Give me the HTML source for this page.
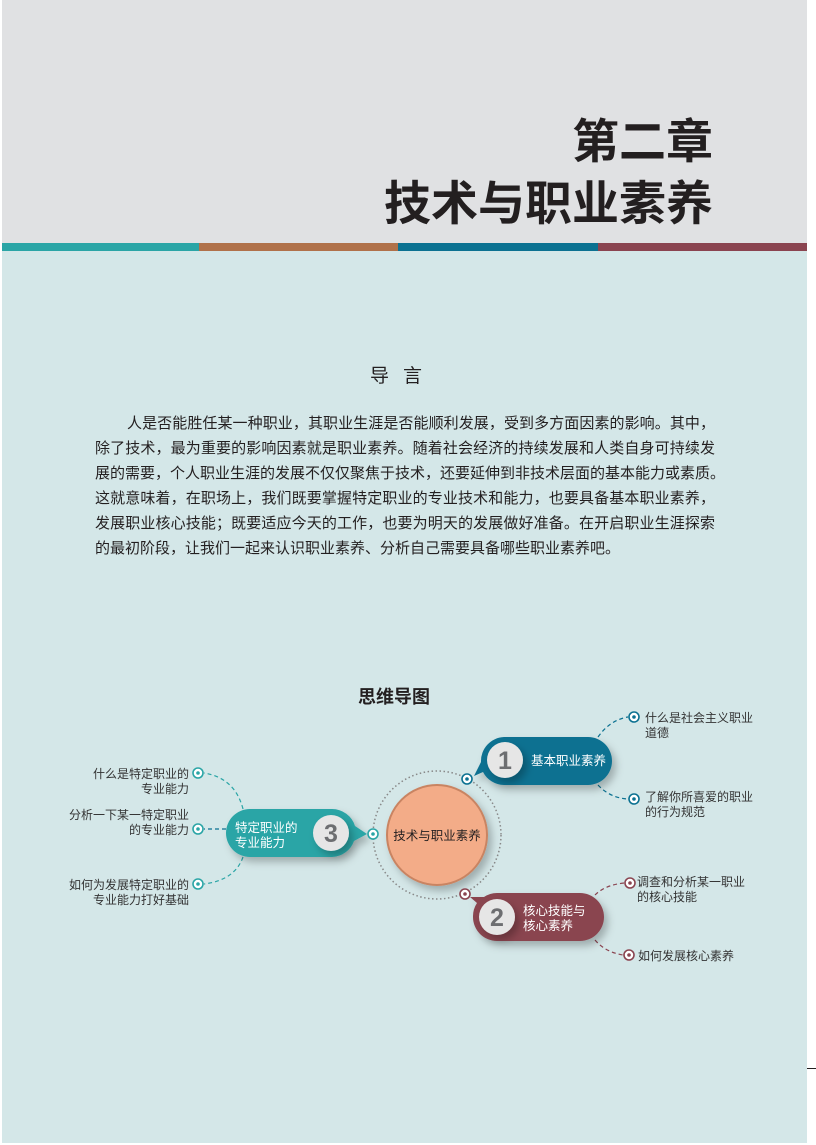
<!DOCTYPE html>
<html><head><meta charset="utf-8"><style>
body{margin:0;width:816px;height:1145px;background:#fff;position:relative;overflow:hidden;font-family:"Liberation Sans","Noto Sans CJK SC",sans-serif}
.page{position:absolute;left:2px;top:0;width:805px;height:1143px;background:#d4e7e8}
.hdr{position:absolute;left:0;top:0;width:805px;height:243px;background:#e0e1e3}
.t{position:absolute;right:94px;font-weight:bold;color:#231f20;font-size:47px;line-height:1;font-family:"Noto Sans CJK SC",sans-serif}
.para{position:absolute;left:93px;top:411px;width:620px;font-size:15px;color:#231f20;line-height:25px}
.para div{text-align:justify;text-align-last:justify;white-space:nowrap}
.s{position:absolute;top:243px;height:8px}
</style></head><body>
<div class="page">
<div class="hdr"></div>
<div class="t" style="top:114px;">第二章</div>
<div class="t" style="top:176px;">技术与职业素养</div>
<div class="s" style="left:0;width:197px;background:#2aa5a6"></div>
<div class="s" style="left:197px;width:199px;background:#b0714a"></div>
<div class="s" style="left:396px;width:200px;background:#0b7191"></div>
<div class="s" style="left:596px;width:209px;background:#8a4450"></div>
<div style="position:absolute;left:368px;top:361px;font-size:19px;color:#231f20;letter-spacing:14px">导言</div>
<div class="para">
<div style="padding-left:32px;text-align-last:justify">人是否能胜任某一种职业，其职业生涯是否能顺利发展，受到多方面因素的影响。其中，</div>
<div>除了技术，最为重要的影响因素就是职业素养。随着社会经济的持续发展和人类自身可持续发</div>
<div>展的需要，个人职业生涯的发展不仅仅聚焦于技术，还要延伸到非技术层面的基本能力或素质。</div>
<div>这就意味着，在职场上，我们既要掌握特定职业的专业技术和能力，也要具备基本职业素养，</div>
<div>发展职业核心技能；既要适应今天的工作，也要为明天的发展做好准备。在开启职业生涯探索</div>
<div style="text-align-last:left">的最初阶段，让我们一起来认识职业素养、分析自己需要具备哪些职业素养吧。</div>
</div>
<div style="position:absolute;left:356px;top:683px;font-size:18px;font-weight:bold;color:#231f20">思维导图</div>
</div>
<div style="position:absolute;left:807px;top:1068px;width:9px;height:1px;background:#231f20"></div>
<svg width="816" height="1145" style="position:absolute;left:0;top:0" font-family="Liberation Sans,Noto Sans CJK SC,sans-serif" font-size="12" fill="#333">
<defs><filter id="sh" x="-30%" y="-30%" width="160%" height="160%"><feDropShadow dx="4" dy="5" stdDeviation="4" flood-color="#000" flood-opacity="0.25"/></filter></defs>
<circle cx="437" cy="835" r="64" fill="none" stroke="#888" stroke-width="1.5" stroke-dasharray="1.5 2.5"/>
<circle cx="437" cy="835" r="50" fill="#f3ac88" stroke="#c98462" stroke-width="2" filter="url(#sh)"/>
<text x="437" y="840" text-anchor="middle" font-size="12.5" fill="#231f20">技术与职业素养</text>
<g fill="none" stroke-width="1.2" stroke-dasharray="4 3">
<path d="M598 737 Q610 720 628 717" stroke="#0b7191"/>
<path d="M598 785 Q610 798 628 799" stroke="#0b7191"/>
<path d="M595 895 Q605 885 624 883" stroke="#8a4450"/>
<path d="M595 940 Q605 952 623 955" stroke="#8a4450"/>
<path d="M243 809 Q235 778 204 773" stroke="#2aa5a6"/>
<path d="M226 829 L204 829" stroke="#0b7191"/>
<path d="M243 857 Q235 880 204 884" stroke="#2aa5a6"/>
</g>
<g filter="url(#sh)"><path d="M504 737 H588 A24 24 0 0 1 588 785 H504 A24 24 0 0 1 483 772 L474 776 L481 762 A24 24 0 0 1 504 737Z" fill="#0b7191"/></g>
<circle cx="505" cy="760" r="18" fill="#e6e6e6" filter="url(#sh)"/>
<text x="505" y="769" text-anchor="middle" font-size="25" font-weight="bold" fill="#6d6e71">1</text>
<text x="531" y="765" font-size="12.5" fill="#fff">基本职业素养</text>
<g filter="url(#sh)"><path d="M497 893 H580 A24 24 0 0 1 580 941 H497 A24 24 0 0 1 473 917 A24 24 0 0 1 477 903 L470 897 L484 897 A24 24 0 0 1 497 893Z" fill="#8a4450"/></g>
<circle cx="497" cy="917" r="18" fill="#e6e6e6" filter="url(#sh)"/>
<text x="497" y="926" text-anchor="middle" font-size="25" font-weight="bold" fill="#6d6e71">2</text>
<text x="523" y="915" font-size="12.5" fill="#fff">核心技能与</text>
<text x="523" y="930" font-size="12.5" fill="#fff">核心素养</text>
<g filter="url(#sh)"><path d="M250 809 H332 A24 24 0 0 1 355 826 L367 834 L354 841 A24 24 0 0 1 332 857 H250 A24 24 0 0 1 250 809Z" fill="#2aa5a6"/></g>
<circle cx="331" cy="833" r="18" fill="#e6e6e6" filter="url(#sh)"/>
<text x="331" y="842" text-anchor="middle" font-size="25" font-weight="bold" fill="#6d6e71">3</text>
<text x="235" y="832" font-size="12.5" fill="#fff">特定职业的</text>
<text x="235" y="847" font-size="12.5" fill="#fff">专业能力</text>
<g stroke-width="1.6" fill="#fff">
<circle cx="467" cy="779" r="5" stroke="#0b7191"/><circle cx="467" cy="779" r="1.8" fill="#0b7191" stroke="none"/>
<circle cx="465" cy="894" r="5" stroke="#8a4450"/><circle cx="465" cy="894" r="1.8" fill="#8a4450" stroke="none"/>
<circle cx="373" cy="834" r="5" stroke="#2aa5a6"/><circle cx="373" cy="834" r="1.8" fill="#2aa5a6" stroke="none"/>
<circle cx="634" cy="717" r="5" stroke="#0b7191"/><circle cx="634" cy="717" r="1.8" fill="#0b7191" stroke="none"/>
<circle cx="634" cy="799" r="5" stroke="#0b7191"/><circle cx="634" cy="799" r="1.8" fill="#0b7191" stroke="none"/>
<circle cx="630" cy="883" r="5" stroke="#8a4450"/><circle cx="630" cy="883" r="1.8" fill="#8a4450" stroke="none"/>
<circle cx="629" cy="955" r="5" stroke="#8a4450"/><circle cx="629" cy="955" r="1.8" fill="#8a4450" stroke="none"/>
<circle cx="198" cy="773" r="5" stroke="#2aa5a6"/><circle cx="198" cy="773" r="1.8" fill="#2aa5a6" stroke="none"/>
<circle cx="198" cy="829" r="5" stroke="#2aa5a6"/><circle cx="198" cy="829" r="1.8" fill="#2aa5a6" stroke="none"/>
<circle cx="198" cy="884" r="5" stroke="#2aa5a6"/><circle cx="198" cy="884" r="1.8" fill="#2aa5a6" stroke="none"/>
</g>
<text x="645" y="722">什么是社会主义职业</text><text x="645" y="737">道德</text>
<text x="645" y="801">了解你所喜爱的职业</text><text x="645" y="816">的行为规范</text>
<text x="637" y="886">调查和分析某一职业</text><text x="637" y="901">的核心技能</text>
<text x="638" y="960">如何发展核心素养</text>
<g text-anchor="end">
<text x="189" y="778">什么是特定职业的</text><text x="189" y="793">专业能力</text>
<text x="189" y="819">分析一下某一特定职业</text><text x="189" y="834">的专业能力</text>
<text x="189" y="889">如何为发展特定职业的</text><text x="189" y="904">专业能力打好基础</text>
</g>
</svg>
</body></html>
